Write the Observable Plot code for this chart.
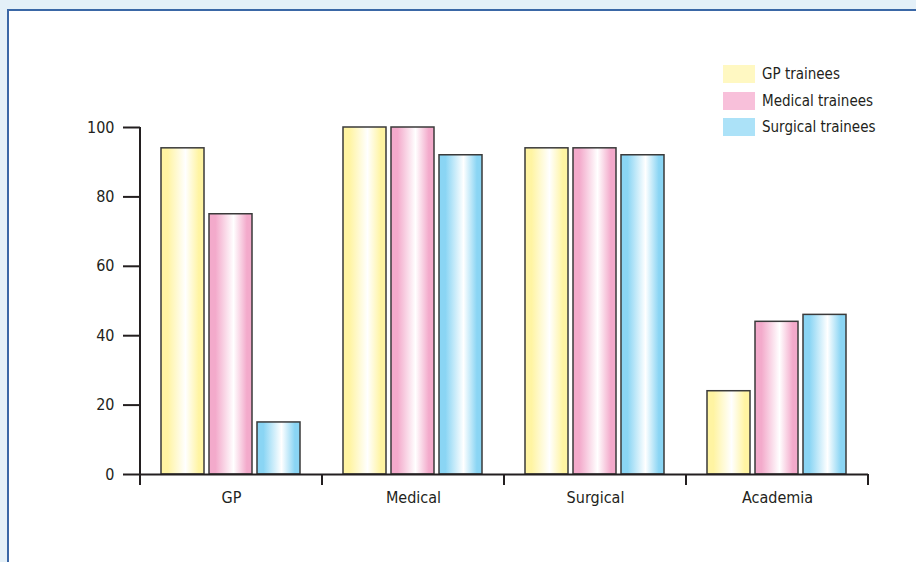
<!DOCTYPE html>
<html>
<head>
<meta charset="utf-8">
<script src="https://cdn.jsdelivr.net/npm/d3@7"></script>
<script src="https://cdn.jsdelivr.net/npm/@observablehq/plot@0.6"></script>
<style>
  html, body { margin: 0; padding: 0; width: 916px; height: 562px; overflow: hidden; background: #e4f0f8; }
  #panel { position: absolute; left: 7px; top: 9px; width: 1000px; height: 700px; background: #ffffff;
           border-left: 2px solid #3a67a6; border-top: 2px solid #3a67a6; }
  #chart { position: absolute; left: 0; top: 0; }
  .cond { font-family: "DejaVu Sans Condensed", "DejaVu Sans", sans-serif; font-stretch: condensed; }
  #chart svg text { font-family: "DejaVu Sans Condensed", "DejaVu Sans", sans-serif; font-stretch: condensed; font-size: 16px; fill: #231f20; }
  #legend { position: absolute; left: 723px; top: 65px; font-size: 15px; color: #231f20; }
  .item { position: absolute; left: 0; display: flex; align-items: center; white-space: nowrap; height: 18px; }
  .sw { width: 32px; height: 18px; margin-right: 7px; flex: none; }
</style>
</head>
<body>
<svg width="0" height="0" style="position:absolute">
  <defs id="grads"></defs>
</svg>
<div id="panel"></div>
<div id="chart"></div>
<div id="legend" class="cond"></div>
<script>
// ---- data ----
const categories = ["GP", "Medical", "Surgical", "Academia"];
const series = ["GP trainees", "Medical trainees", "Surgical trainees"];
const gpTrainees = [94, 100, 94, 24];
const medicalTrainees = [75, 100, 94, 44];
const surgicalTrainees = [15, 92, 92, 46];
const yTicks = [0, 20, 40, 60, 80, 100];

// ---- styles ----
const edgeColors = ["#fff4a2", "#f3aacb", "#8ad5f4"];
const swatchColors = ["#fff8c2", "#f8c0da", "#ace2f8"];
const gradIds = ["gradGP", "gradMed", "gradSurg"];

// gradients
const defs = d3.select("#grads");
gradIds.forEach((id, i) => {
  const g = defs.append("linearGradient").attr("id", id).attr("x1", "0").attr("x2", "1").attr("y1", "0").attr("y2", "0");
  g.append("stop").attr("offset", "0%").attr("stop-color", edgeColors[i]);
  g.append("stop").attr("offset", "15%").attr("stop-color", edgeColors[i]);
  g.append("stop").attr("offset", "57%").attr("stop-color", "#ffffff");
  g.append("stop").attr("offset", "88%").attr("stop-color", edgeColors[i]);
  g.append("stop").attr("offset", "100%").attr("stop-color", edgeColors[i]);
});

const valuesBySeries = [gpTrainees, medicalTrainees, surgicalTrainees];
const data = [];
categories.forEach((c, ci) => {
  series.forEach((s, si) => {
    data.push({category: c, series: s, value: valuesBySeries[si][ci]});
  });
});

const plot = Plot.plot({
  width: 916,
  height: 562,
  marginLeft: 138,
  marginRight: 47,
  marginTop: 127,
  marginBottom: 88,
  style: {background: "transparent", overflow: "visible"},
  fx: {domain: categories, padding: 0},
  x: {domain: series, paddingInner: 0.1, paddingOuter: 0.42, axis: null},
  y: {domain: [0, 100]},
  color: {domain: series, range: gradIds.map(id => `url(#${id})`)},
  marks: [
    Plot.barY(data, {fx: "category", x: "series", y: "value", fill: "series", stroke: "#3a3a3a", strokeWidth: 1.5}),
    Plot.ruleY([0], {stroke: "#231f20", strokeWidth: 2}),
    Plot.axisY({ticks: yTicks, tickSize: 17, tickPadding: 9, strokeWidth: 2, stroke: "#231f20", label: null}),
    Plot.axisFx({anchor: "bottom", tickSize: 0, tickPadding: 17, label: null})
  ]
});
document.getElementById("chart").appendChild(plot);

// axis line and category boundary ticks, placed with the plot's own scales
const fx = plot.scale("fx");
const y = plot.scale("y");
const svg = d3.select(plot);
const g = svg.append("g").attr("stroke", "#231f20").attr("stroke-width", 2);
const x0 = fx.apply(categories[0]);
g.append("line").attr("x1", x0).attr("x2", x0).attr("y1", y.apply(100)).attr("y2", y.apply(0));
const bounds = categories.map(c => fx.apply(c)).concat([fx.apply(categories[categories.length - 1]) + fx.bandwidth]);
bounds.forEach(b => {
  g.append("line").attr("x1", b).attr("x2", b).attr("y1", y.apply(0)).attr("y2", y.apply(0) + 11);
});

// legend
const legend = d3.select("#legend");
series.forEach((s, i) => {
  const item = legend.append("div").attr("class", "item").style("top", `${i * 26.5}px`);
  item.append("div").attr("class", "sw").style("background", swatchColors[i]);
  item.append("span").text(s);
});
</script>
</body>
</html>
